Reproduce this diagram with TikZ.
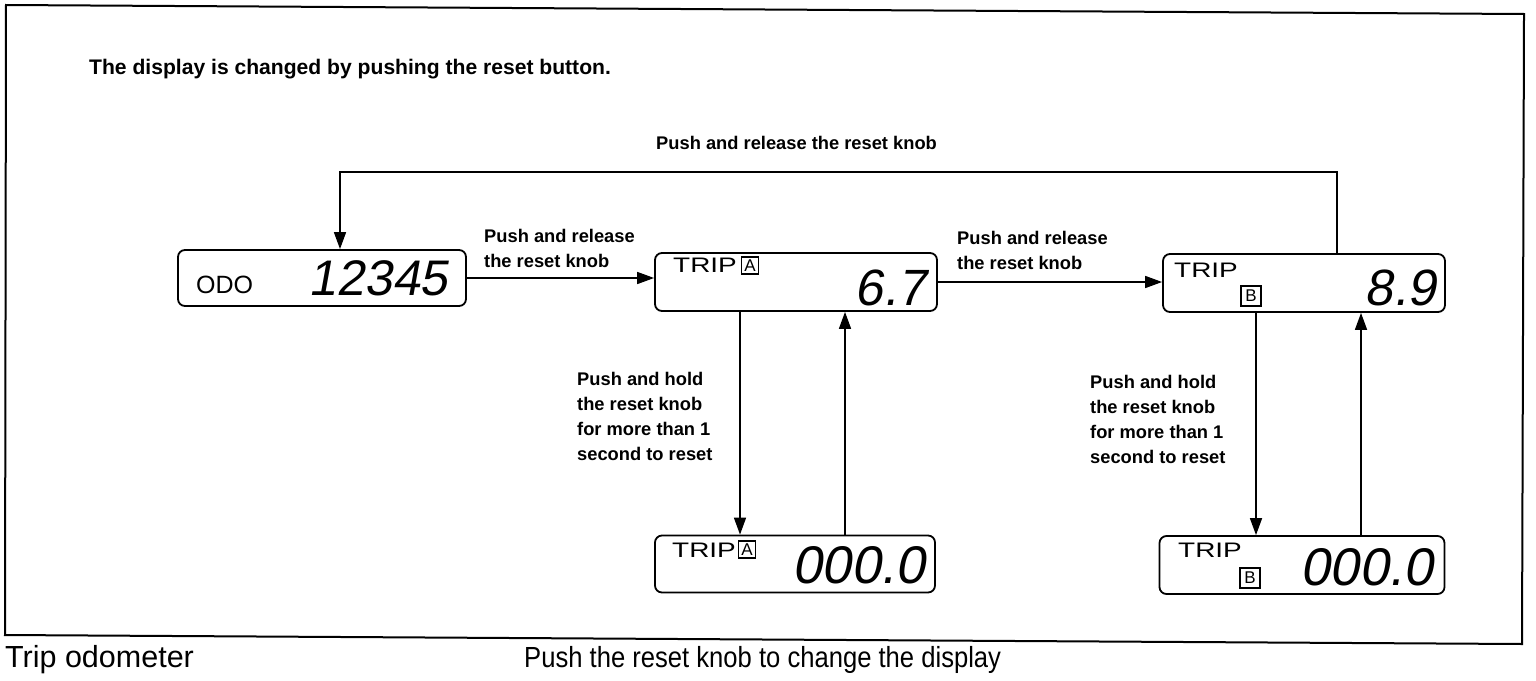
\documentclass[tikz,border=0pt]{standalone}
\usepackage{fontspec}
\setmainfont{Liberation Sans}
\newfontfamily\segfont[FakeSlant=0.18]{Liberation Sans}
\newfontfamily\tripfont[FakeStretch=1.33]{Liberation Sans}
\newfontfamily\capfont[FakeStretch=0.88]{Liberation Sans}
\usetikzlibrary{arrows.meta}
\begin{document}
\begin{tikzpicture}[x=1pt,y=-1pt,
  lcd/.style={draw,line width=1.8pt,rounded corners=7pt,inner sep=0pt},
  txt/.style={inner sep=0pt,anchor=base west},
  seg/.style={inner sep=0pt,anchor=base east,font=\segfont\fontsize{53}{53}\selectfont},
  trip/.style={inner sep=0pt,anchor=base west,font=\tripfont\fontsize{21}{21}\selectfont},
  lbox/.style={draw,line width=1.6pt,inner sep=0pt,minimum size=17pt,font=\fontsize{17}{17}\selectfont},
  lab/.style={inner sep=0pt,anchor=base west,align=left,font=\bfseries\fontsize{18.3}{25}\selectfont},
  arr/.style={line width=1.6pt,-{Triangle[length=17pt,width=12pt]}},
  lin/.style={line width=1.6pt}]
\useasboundingbox (0,0) rectangle (1536,680);
\fill[white] (0,0) rectangle (1536,680);
% frame
\draw[line width=2pt] (6,5) -- (1524,14) -- (1522,644) -- (5,635) -- cycle;
% title and captions
\node[txt,font=\bfseries\fontsize{21.1}{21.1}\selectfont] (title) at (89,74) {The display is changed by pushing the reset button.};
\node[txt,font=\fontsize{30.5}{30.5}\selectfont] (cap1) at (5,667) {Trip odometer};
\node[txt,font=\capfont\fontsize{29.1}{29.1}\selectfont] (cap2) at (524,667) {Push the reset knob to change the display};
% displays
\node[lcd,minimum width=288pt,minimum height=56pt] (odo) at (322,278) {};
\node[lcd,minimum width=282pt,minimum height=58pt] (tripa) at (796,282) {};
\node[lcd,minimum width=282pt,minimum height=58pt] (tripb) at (1304,283) {};
\node[lcd,minimum width=280pt,minimum height=57pt] (tripaz) at (795,564) {};
\node[lcd,minimum width=285pt,minimum height=58pt] (tripbz) at (1302,565) {};
% display contents
\node[inner sep=0pt,anchor=base west,font=\fontsize{25}{25}\selectfont] (odot) at (196,293) {ODO};
\node[seg,font=\segfont\fontsize{50}{50}\selectfont] (odon) at (448,295) {12345};
\node[trip] (tat) at (673,272) {TRIP};
\node[lbox] (tab) at (750,265.5) {A};
\node[seg,font=\segfont\fontsize{51}{51}\selectfont] (tan) at (926,305) {6.7};
\node[trip] (tbt) at (1174,277) {TRIP};
\node[lbox,minimum size=20pt] (tbb) at (1251,296) {B};
\node[seg,font=\segfont\fontsize{51}{51}\selectfont] (tbn) at (1436,305) {8.9};
\node[trip] (tazt) at (672,557) {TRIP};
\node[lbox] (tazb) at (747,549.5) {A};
\node[seg] (tazn) at (925,583) {000.0};
\node[trip] (tbzt) at (1178,557) {TRIP};
\node[lbox,minimum size=20pt] (tbzb) at (1250,578) {B};
\node[seg] (tbzn) at (1433,585) {000.0};
% labels
\node[lab] (l1) at (484,267) {Push and release\\the reset knob};
\node[lab] (l2) at (957,269) {Push and release\\the reset knob};
\node[lab] (l3) at (656,149) {Push and release the reset knob};
\node[lab] (l4) at (577,460) {Push and hold\\the reset knob\\for more than 1\\second to reset};
\node[lab] (l5) at (1090,463) {Push and hold\\the reset knob\\for more than 1\\second to reset};
% connectors
\coordinate (lt) at (340,172);
\coordinate (rt) at (1337,172);
\coordinate (xa1) at (740,0);
\coordinate (xa2) at (845,0);
\coordinate (xb1) at (1256,0);
\coordinate (xb2) at (1361,0);
\draw[arr] (odo.east) -- (odo.east -| tripa.west);
\draw[arr] (tripa.east) -- (tripa.east -| tripb.west);
\draw[arr] (rt |- tripb.north) -- (rt) -- (lt) -- (lt |- odo.north);
\draw[arr] (xa1 |- tripa.south) -- (xa1 |- tripaz.north);
\draw[arr] (xa2 |- tripaz.north) -- (xa2 |- tripa.south);
\draw[arr] (xb1 |- tripb.south) -- (xb1 |- tripbz.north);
\draw[arr] (xb2 |- tripbz.north) -- (xb2 |- tripb.south);
\end{tikzpicture}
\end{document}
